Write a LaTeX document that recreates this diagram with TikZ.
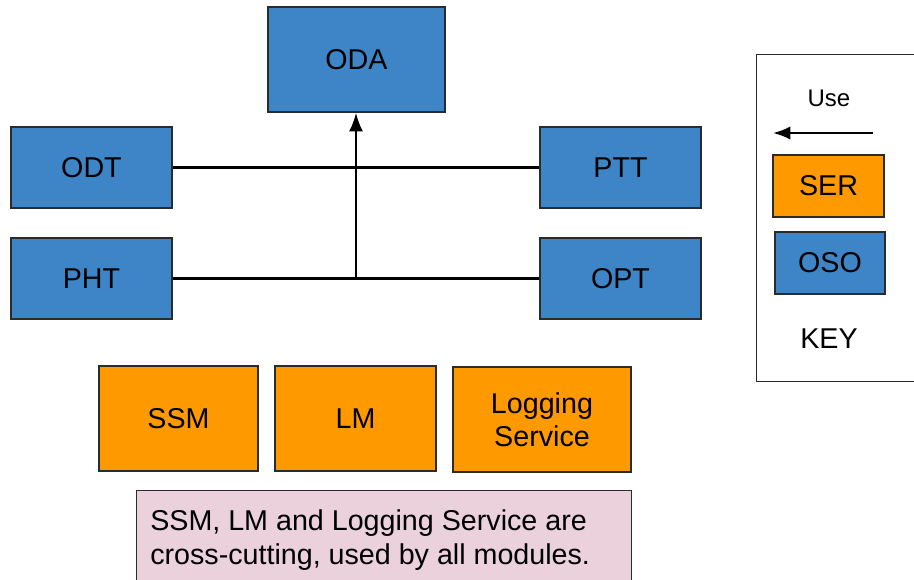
\documentclass[tikz,border=0pt]{standalone}
\usepackage{fontspec}
\setmainfont{Liberation Sans}
\usetikzlibrary{arrows.meta}

\definecolor{osoblue}{HTML}{3D85C6}
\definecolor{serorange}{HTML}{FF9900}
\definecolor{notepink}{HTML}{EAD1DC}
\definecolor{edgegray}{HTML}{2B2B2B}
\def\pxu{0.75pt}

\begin{document}
\begin{tikzpicture}[x=0.75pt, y=-0.75pt,
		box/.style={draw=edgegray, line width=1pt, inner sep=0pt, align=center,
			font=\fontsize{21.5}{24.5}\selectfont},
		osobox/.style={box, fill=osoblue, minimum width=161*\pxu, minimum height=81*\pxu},
		serbox/.style={box, fill=serorange, minimum width=161*\pxu, minimum height=105*\pxu},
		link/.style={line width=1.8pt}]
		\clip (0,0) rectangle (914,579);

		% modules
		\node[osobox, minimum width=177*\pxu, minimum height=105*\pxu] (oda) at (356.5,59.5) {ODA};
		\node[osobox] (odt) at (91.5,167.5) {ODT};
		\node[osobox] (pht) at (91.5,278.5) {PHT};
		\node[osobox] (ptt) at (620.5,167.5) {PTT};
		\node[osobox] (opt) at (620.5,278.5) {OPT};

		\draw[link] (odt) -- (ptt);
		\draw[link] (pht) -- (opt);
		\coordinate (junc) at (356,278.5);
		\draw[link, -{Latex[length=14pt, width=10.5pt]}] (junc) -- (junc |- oda.south);

		% services
		\node[serbox, minimum width=159*\pxu] (ssm) at (178.5,418.5) {SSM};
		\node[serbox] (lm) at (355.5,418.5) {LM};
		\node[serbox, minimum width=178*\pxu] (logsvc) at (542,419.5) {Logging\\Service};

		\node[box, fill=notepink, anchor=north west, minimum width=495*\pxu, minimum height=110*\pxu] (note) at (136,490) {};
		\node[anchor=north west, align=left, inner sep=0pt, font=\fontsize{21.5}{25.5}\selectfont] (notetext) at (150,509)
			{SSM, LM and Logging Service are\\cross-cutting, used by all modules.};

		% key
		\node[box, fill=white, anchor=north west, minimum width=170*\pxu, minimum height=327*\pxu] (keybox) at (756,54) {};
		\node[font=\fontsize{18}{20}\selectfont] (use) at (829,98) {Use};
		\coordinate (usetail) at (873,133);
		\coordinate (usehead) at (773,133);
		\draw[link, -{Latex[length=13pt, width=10pt]}] (usetail) -- (usehead);
		\node[box, fill=serorange, minimum width=111*\pxu, minimum height=62*\pxu] (ser) at (828.5,186) {SER};
		\node[box, fill=osoblue, minimum width=110*\pxu, minimum height=62*\pxu] (oso) at (830,263) {OSO};
		\node[font=\fontsize{21.5}{24.5}\selectfont] (keylabel) at (829,339) {KEY};
	\end{tikzpicture}
\end{document}
